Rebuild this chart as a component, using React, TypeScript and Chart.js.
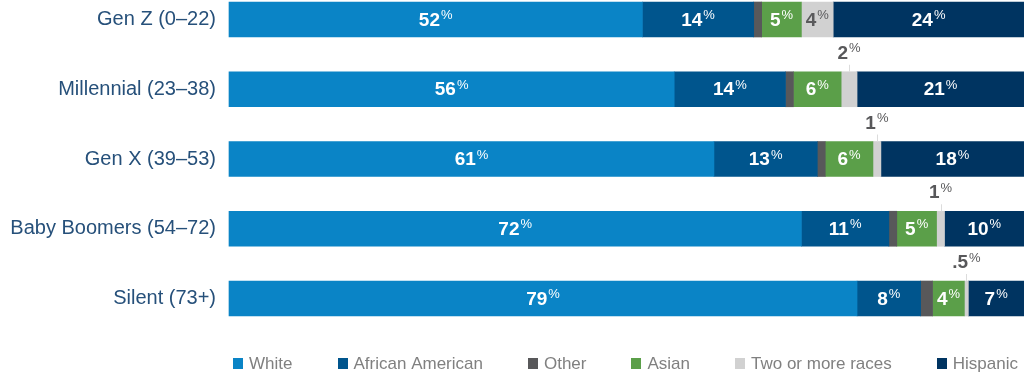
import React, { useEffect, useRef } from "react";
import { Chart, registerables } from "chart.js";

Chart.register(...registerables);

const categories = [
  "Gen Z (0–22)",
  "Millennial (23–38)",
  "Gen X (39–53)",
  "Baby Boomers (54–72)",
  "Silent (73+)",
];
const white = [52, 56, 61, 72, 79];
const africanAmerican = [14, 14, 13, 11, 8];
const other = [1, 1, 1, 1, 1.5];
const asian = [5, 6, 6, 5, 4];
const twoOrMore = [4, 2, 1, 1, 0.5];
const hispanic = [24, 21, 18, 10, 7];

const seriesNames = ["White", "African American", "Other", "Asian", "Two or more races", "Hispanic"];
const seriesColors = ["#0a84c6", "#00558d", "#58585a", "#5b9f49", "#d1d1d1", "#003461"];
const labelColors = ["#ffffff", "#ffffff", null, "#ffffff", "#5a5a5c", "#ffffff"];

const FONT = '"Liberation Sans", Arial, sans-serif';

const fmt = (v: number) => (v < 1 ? String(v).replace(/^0/, "") : String(v));

const valueLabelPlugin = {
  id: "valueLabels",
  afterDatasetsDraw(chart: any) {
    const ctx = chart.ctx;
    chart.data.datasets.forEach((ds: any, di: number) => {
      if (!ds.labelColor) return;
      const meta = chart.getDatasetMeta(di);
      meta.data.forEach((bar: any, i: number) => {
        const v = ds.data[i];
        const { x, y, base, height } = bar.getProps(["x", "y", "base", "height"], true);
        const numText = fmt(v);
        ctx.save();
        ctx.font = `bold 19px ${FONT}`;
        const nw = ctx.measureText(numText).width;
        ctx.font = `13px ${FONT}`;
        const pw = ctx.measureText("%").width;
        const total = nw + 1 + pw;
        const segW = Math.abs(x - base);
        const inside = total + 6 <= segW;
        const cx = (x + base) / 2;
        const top = y - height / 2;
        const cy = inside ? y : top - 19;
        const color = inside ? ds.labelColor : "#58585a";
        if (!inside) {
          ctx.strokeStyle = "#dcdcdc";
          ctx.lineWidth = 1;
          ctx.beginPath();
          ctx.moveTo(Math.round(cx) + 0.5, top - 7);
          ctx.lineTo(Math.round(cx) + 0.5, top);
          ctx.stroke();
        }
        ctx.fillStyle = color;
        ctx.textBaseline = "middle";
        ctx.textAlign = "left";
        const left = cx - total / 2;
        ctx.font = `bold 19px ${FONT}`;
        ctx.fillText(numText, left, cy + 1);
        ctx.font = `13px ${FONT}`;
        ctx.fillText("%", left + nw + 1, cy - 4);
        ctx.restore();
      });
    });
  },
};

const legendPlugin = {
  id: "customLegend",
  afterDraw(chart: any) {
    const ctx = chart.ctx;
    const area = chart.chartArea;
    const boxW = 10;
    const boxH = 11;
    const boxGap = 6;
    const itemGap = 45;
    const cy = 363;
    ctx.save();
    ctx.font = `17px ${FONT}`;
    const items = chart.data.datasets.map((ds: any) => ({
      text: ds.label,
      color: ds.backgroundColor,
      w: ctx.measureText(ds.label).width,
    }));
    const total =
      items.reduce((s: number, it: any) => s + boxW + boxGap + it.w, 0) + itemGap * (items.length - 1);
    let x = (area.left + area.right) / 2 - total / 2 - 1;
    ctx.textBaseline = "middle";
    ctx.textAlign = "left";
    items.forEach((it: any) => {
      ctx.fillStyle = it.color;
      ctx.fillRect(Math.round(x), Math.round(cy - boxH / 2), boxW, boxH);
      ctx.fillStyle = "#808080";
      ctx.fillText(it.text, x + boxW + boxGap, cy + 1);
      x += boxW + boxGap + it.w + itemGap;
    });
    ctx.restore();
  },
};

export default function App() {
  const canvasRef = useRef<HTMLCanvasElement | null>(null);

  useEffect(() => {
    if (!canvasRef.current) return;
    Chart.defaults.font.family = FONT;
    const seriesData = [white, africanAmerican, other, asian, twoOrMore, hispanic];
    const chart = new Chart(canvasRef.current, {
      type: "bar",
      data: {
        labels: categories,
        datasets: seriesData.map((d, i) => ({
          label: seriesNames[i],
          data: d,
          backgroundColor: seriesColors[i],
          borderWidth: 0,
          barThickness: 35,
          clip: false,
          labelColor: labelColors[i],
        })) as any,
      },
      options: {
        indexAxis: "y",
        animation: false,
        responsive: true,
        maintainAspectRatio: false,
        layout: { padding: { top: 19.5, left: 0, right: 0, bottom: 77.5 } },
        scales: {
          x: {
            stacked: true,
            min: 0,
            max: 100,
            display: false,
          },
          y: {
            stacked: true,
            offset: false,
            grid: { display: false, drawTicks: false },
            border: { display: false },
            ticks: {
              padding: 13,
              color: "#26507a",
              font: { size: 20, family: FONT },
            },
            afterFit: (s: any) => {
              s.width = 229;
              s.paddingTop = 0;
              s.paddingBottom = 0;
            },
          },
        },
        plugins: {
          tooltip: { enabled: false },
          legend: { display: false },
        },
      } as any,
      plugins: [valueLabelPlugin, legendPlugin],
    });
    return () => chart.destroy();
  }, []);

  return (
    <div style={{ position: "absolute", left: 0, top: 0, width: 1024, height: 376, background: "#fff" }}>
      <canvas ref={canvasRef} />
    </div>
  );
}
